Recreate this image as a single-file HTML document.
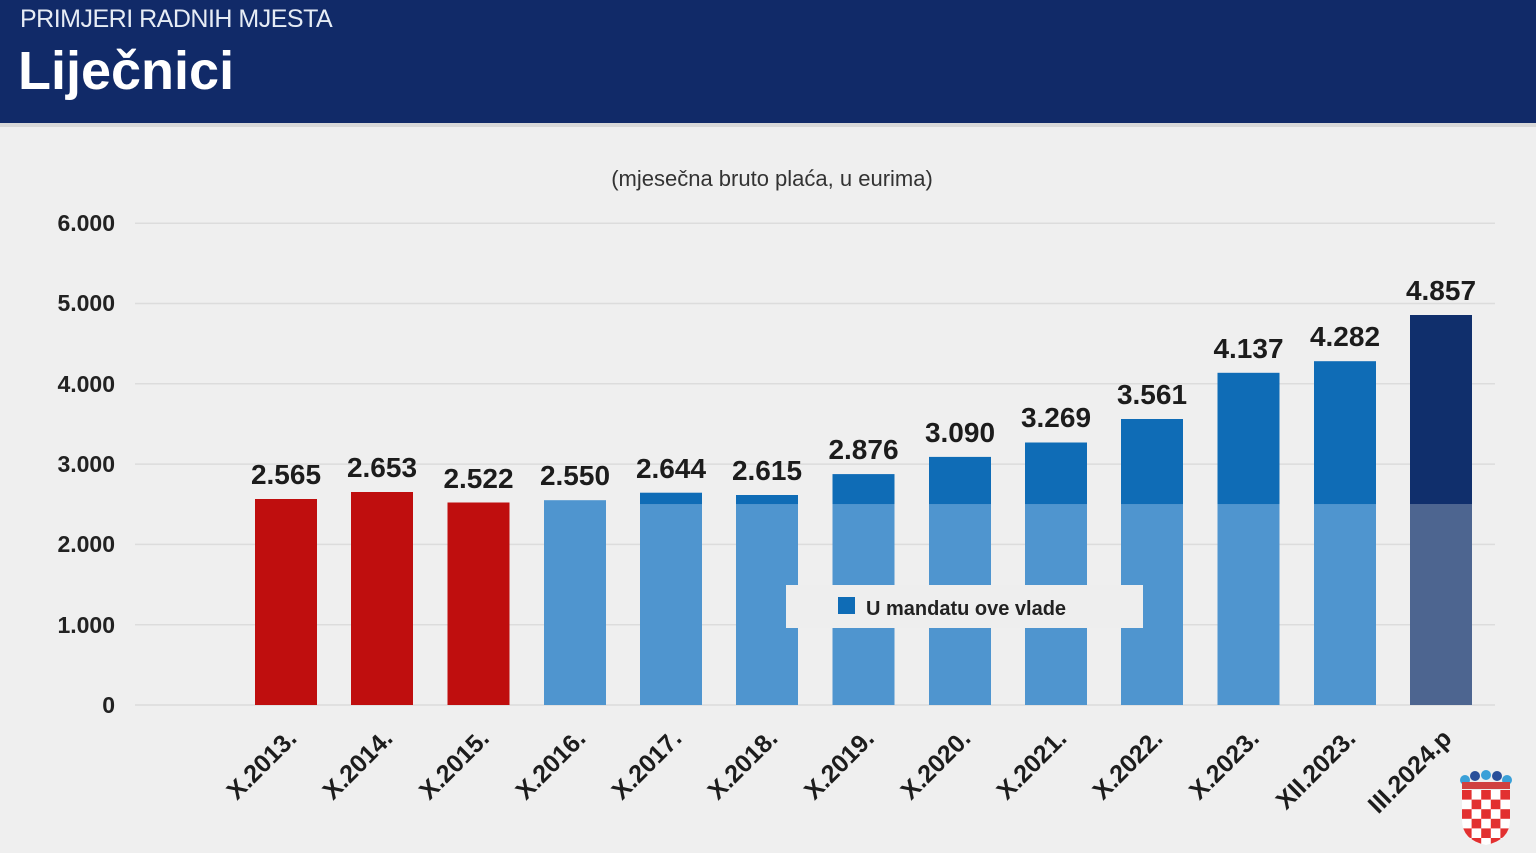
<!DOCTYPE html>
<html><head><meta charset="utf-8"><style>
html,body{margin:0;padding:0;background:#efefef;}
svg{display:block;font-family:"Liberation Sans",sans-serif;}
</style></head><body>
<svg width="1536" height="853" viewBox="0 0 1536 853" xmlns="http://www.w3.org/2000/svg">
<rect width="1536" height="853" fill="#efefef"/>
<rect width="1536" height="123" fill="#112a68"/>
<rect y="123" width="1536" height="4" fill="#d8d8d8"/>
<text x="20" y="27" fill="#e6ecf5" font-size="25" letter-spacing="-0.5">PRIMJERI RADNIH MJESTA</text>
<text x="18" y="89" fill="#ffffff" font-size="54" font-weight="bold">Liječnici</text>
<text x="772" y="186" fill="#333" font-size="22" text-anchor="middle">(mjesečna bruto plaća, u eurima)</text>
<g stroke="#dcdcdc" stroke-width="1.5">
<line x1="135" x2="1495" y1="223.2" y2="223.2"/>
<line x1="135" x2="1495" y1="303.5" y2="303.5"/>
<line x1="135" x2="1495" y1="383.8" y2="383.8"/>
<line x1="135" x2="1495" y1="464.1" y2="464.1"/>
<line x1="135" x2="1495" y1="544.4" y2="544.4"/>
<line x1="135" x2="1495" y1="624.7" y2="624.7"/>
<line x1="135" x2="1495" y1="705" y2="705"/>
</g>
<g font-size="23" font-weight="bold" fill="#222" text-anchor="end">
<text x="115" y="231">6.000</text>
<text x="115" y="311">5.000</text>
<text x="115" y="392">4.000</text>
<text x="115" y="472">3.000</text>
<text x="115" y="552">2.000</text>
<text x="115" y="633">1.000</text>
<text x="115" y="713">0</text>
</g>
<rect x="255" y="499" width="62" height="206" fill="#bf0e0e"/>
<rect x="351" y="492" width="62" height="213" fill="#bf0e0e"/>
<rect x="447.5" y="502.5" width="62" height="202.5" fill="#bf0e0e"/>
<rect x="544" y="500.2" width="62" height="204.8" fill="#4f95cf"/>
<g fill="#4f95cf">
<rect x="640" y="504.3" width="62" height="200.7"/>
<rect x="736" y="504.3" width="62" height="200.7"/>
<rect x="832.5" y="504.3" width="62" height="200.7"/>
<rect x="929" y="504.3" width="62" height="200.7"/>
<rect x="1025" y="504.3" width="62" height="200.7"/>
<rect x="1121" y="504.3" width="62" height="200.7"/>
<rect x="1217.5" y="504.3" width="62" height="200.7"/>
<rect x="1314" y="504.3" width="62" height="200.7"/>
</g>
<g fill="#0f6cb6">
<rect x="640" y="492.7" width="62" height="11.6"/>
<rect x="736" y="495" width="62" height="9.3"/>
<rect x="832.5" y="474.1" width="62" height="30.2"/>
<rect x="929" y="456.9" width="62" height="47.4"/>
<rect x="1025" y="442.5" width="62" height="61.8"/>
<rect x="1121" y="419" width="62" height="85.3"/>
<rect x="1217.5" y="372.8" width="62" height="131.5"/>
<rect x="1314" y="361.2" width="62" height="143.1"/>
</g>
<rect x="1410" y="504.3" width="62" height="200.7" fill="#4d6590"/>
<rect x="1410" y="315" width="62" height="189.3" fill="#102f6c"/>
<g font-size="28" font-weight="bold" fill="#1c1c1c" text-anchor="middle">
<text x="286" y="484">2.565</text>
<text x="382" y="477">2.653</text>
<text x="478.5" y="488">2.522</text>
<text x="575" y="485">2.550</text>
<text x="671" y="478">2.644</text>
<text x="767" y="480">2.615</text>
<text x="863.5" y="459">2.876</text>
<text x="960" y="442">3.090</text>
<text x="1056" y="427">3.269</text>
<text x="1152" y="404">3.561</text>
<text x="1248.5" y="358">4.137</text>
<text x="1345" y="346">4.282</text>
<text x="1441" y="300">4.857</text>
</g>
<rect x="786" y="585" width="357" height="43" fill="#eeeeee"/>
<rect x="838" y="597" width="17" height="17" fill="#0f6cb6"/>
<text x="866" y="615" font-size="20" font-weight="bold" fill="#222">U mandatu ove vlade</text>
<g font-size="25" font-weight="bold" fill="#1c1c1c" text-anchor="end">
<text transform="translate(298,740) rotate(-45)">X.2013.</text>
<text transform="translate(394,740) rotate(-45)">X.2014.</text>
<text transform="translate(490.5,740) rotate(-45)">X.2015.</text>
<text transform="translate(587,740) rotate(-45)">X.2016.</text>
<text transform="translate(683,740) rotate(-45)">X.2017.</text>
<text transform="translate(779,740) rotate(-45)">X.2018.</text>
<text transform="translate(875.5,740) rotate(-45)">X.2019.</text>
<text transform="translate(972,740) rotate(-45)">X.2020.</text>
<text transform="translate(1068,740) rotate(-45)">X.2021.</text>
<text transform="translate(1164,740) rotate(-45)">X.2022.</text>
<text transform="translate(1260.5,740) rotate(-45)">X.2023.</text>
<text transform="translate(1357,740) rotate(-45)">XII.2023.</text>
<text transform="translate(1453,740) rotate(-45)">III.2024.p</text>
</g>
<defs><clipPath id="sh"><path d="M1462 790 H1510 V820 Q1510 840 1486 845 Q1462 840 1462 820 Z"/></clipPath></defs>
<g>
<circle cx="1465" cy="780" r="5" fill="#3aa0d8"/>
<circle cx="1475" cy="776" r="5" fill="#2a4f9a"/>
<circle cx="1486" cy="775" r="5" fill="#3aa0d8"/>
<circle cx="1497" cy="776" r="5" fill="#2a4f9a"/>
<circle cx="1507" cy="780" r="5" fill="#3aa0d8"/>
<rect x="1462" y="782" width="48" height="7" fill="#d04040"/>
</g>
<g clip-path="url(#sh)">
<rect x="1462" y="790" width="48" height="56" fill="#ffffff"/>
<g fill="#e23030">
<rect x="1462" y="790" width="9.6" height="9.6"/><rect x="1481.2" y="790" width="9.6" height="9.6"/><rect x="1500.4" y="790" width="9.6" height="9.6"/>
<rect x="1471.6" y="799.6" width="9.6" height="9.6"/><rect x="1490.8" y="799.6" width="9.6" height="9.6"/>
<rect x="1462" y="809.2" width="9.6" height="9.6"/><rect x="1481.2" y="809.2" width="9.6" height="9.6"/><rect x="1500.4" y="809.2" width="9.6" height="9.6"/>
<rect x="1471.6" y="818.8" width="9.6" height="9.6"/><rect x="1490.8" y="818.8" width="9.6" height="9.6"/>
<rect x="1462" y="828.4" width="9.6" height="9.6"/><rect x="1481.2" y="828.4" width="9.6" height="9.6"/><rect x="1500.4" y="828.4" width="9.6" height="9.6"/>
<rect x="1471.6" y="838" width="9.6" height="9.6"/><rect x="1490.8" y="838" width="9.6" height="9.6"/>
</g>
</g>
</svg>
</body></html>
